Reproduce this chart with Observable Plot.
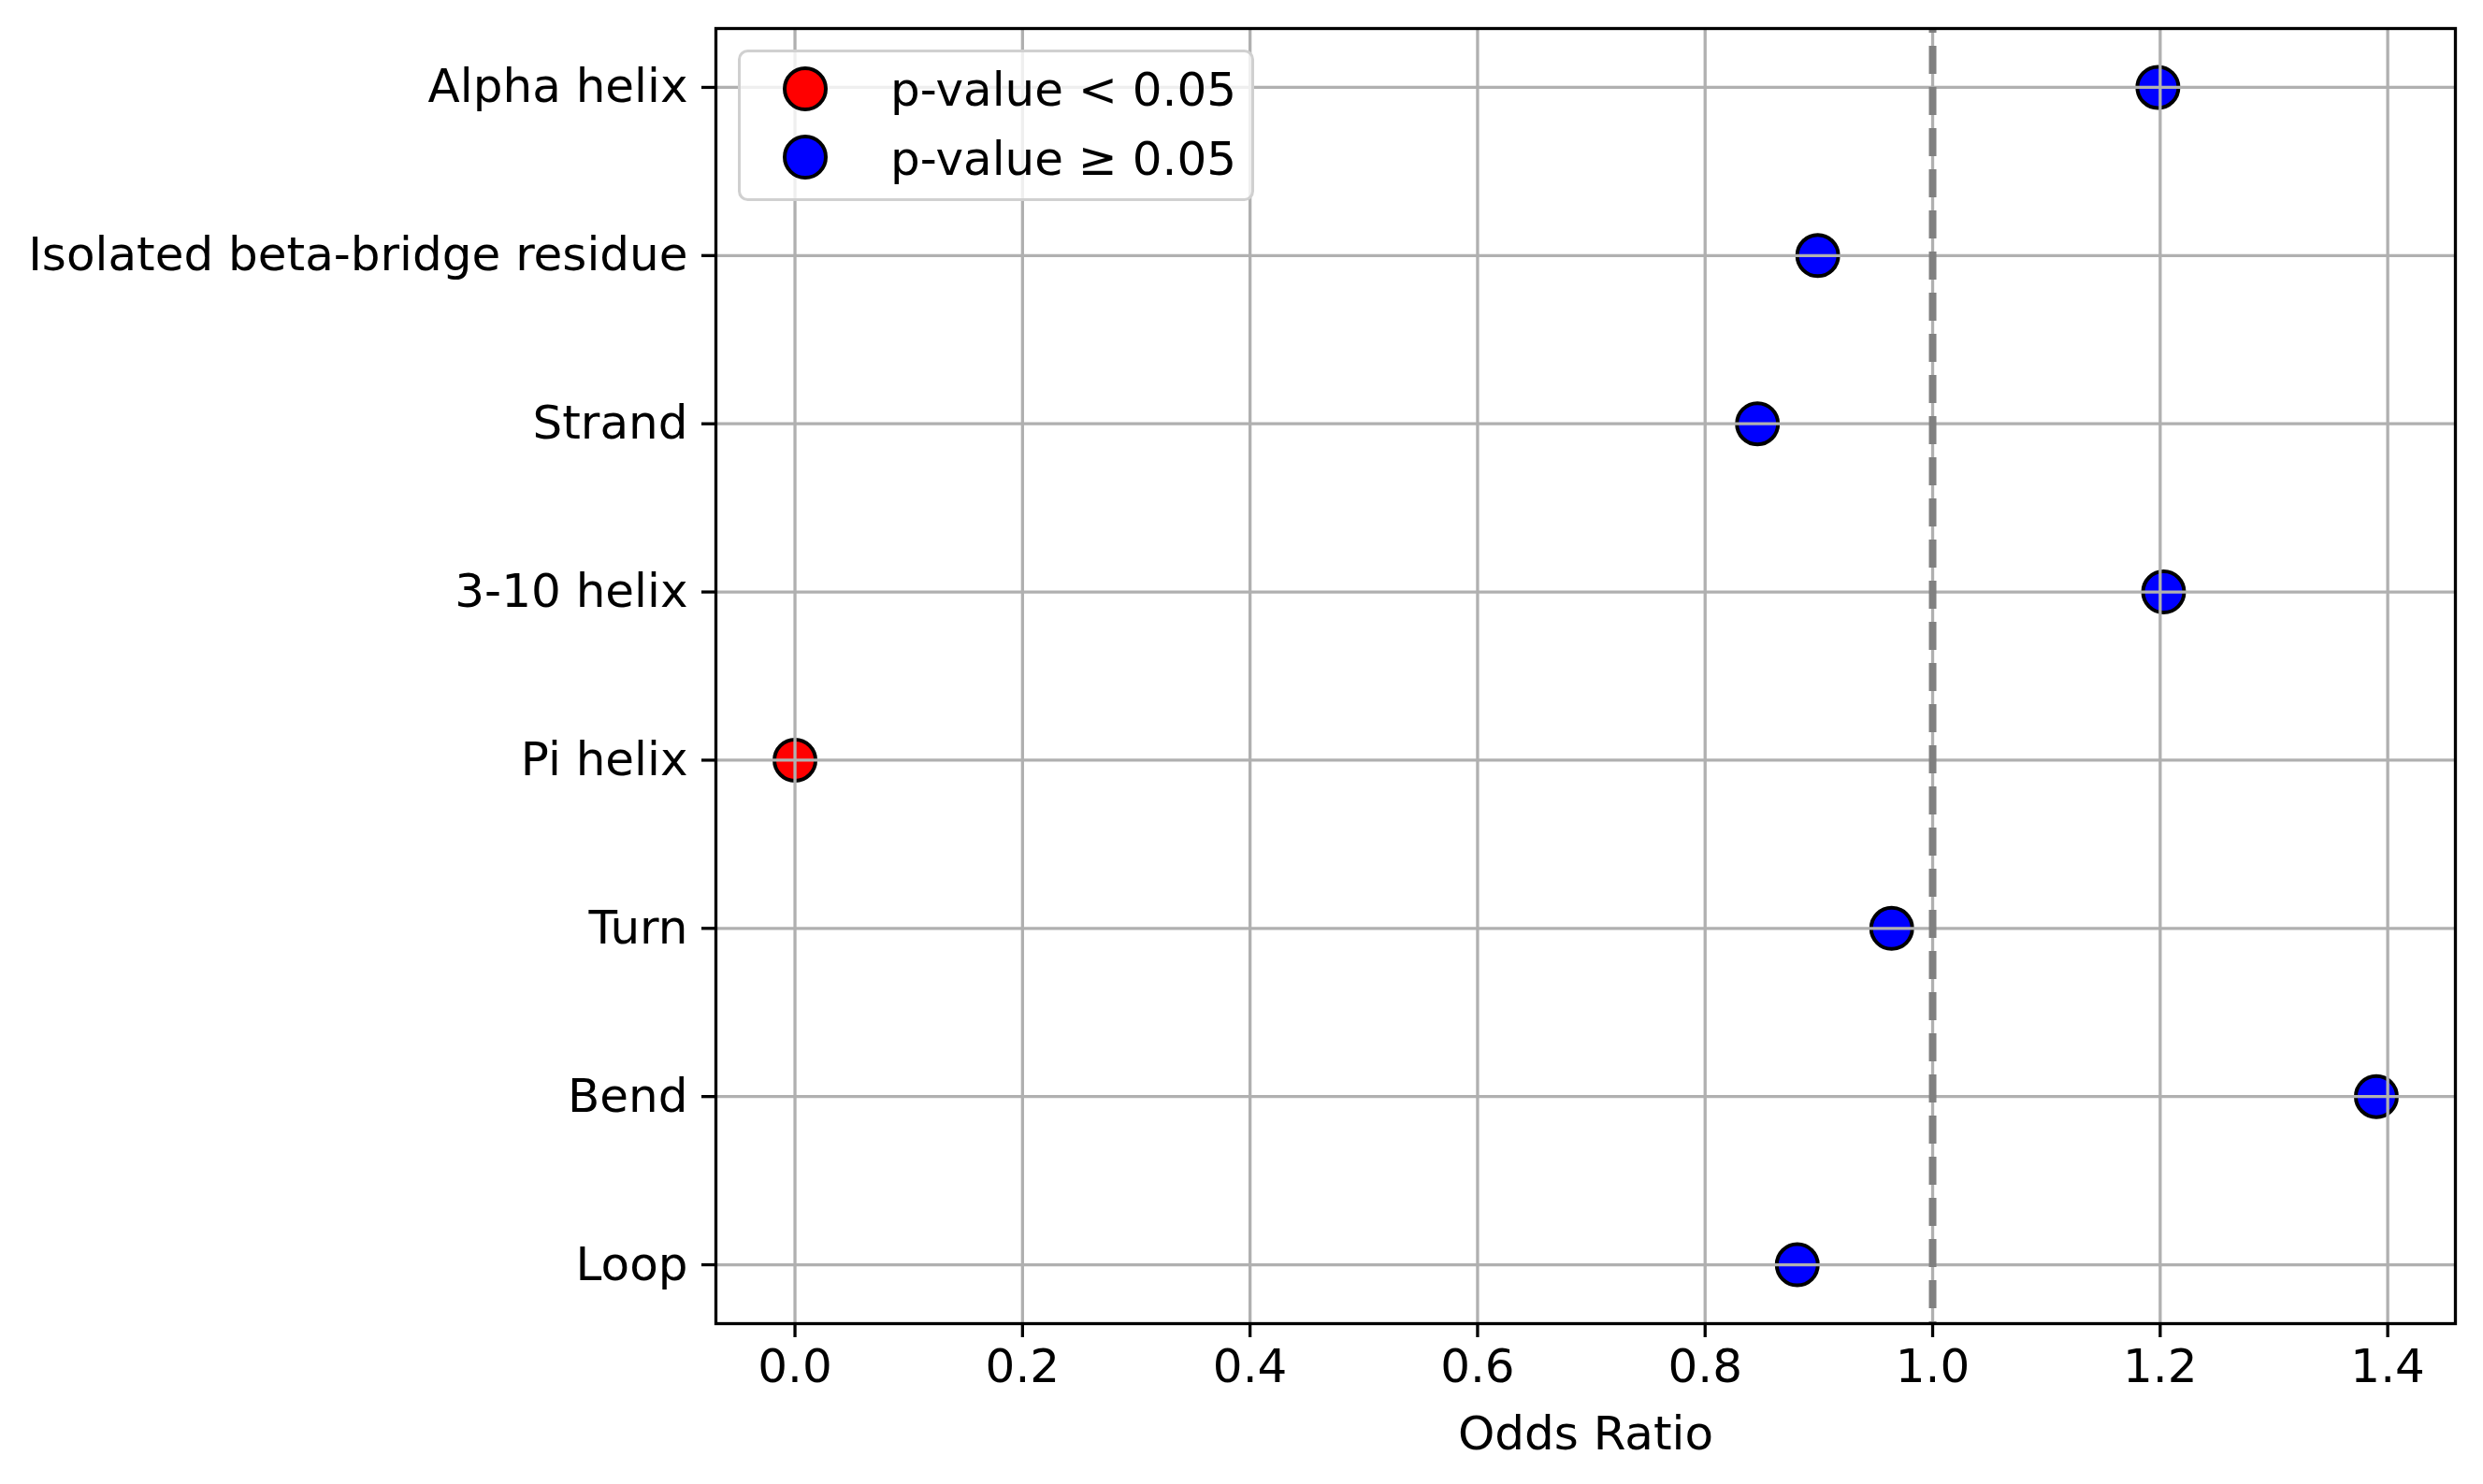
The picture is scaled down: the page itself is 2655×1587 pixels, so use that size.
<!DOCTYPE html>
<html>
<head>
<meta charset="utf-8">
<script src="https://cdn.jsdelivr.net/npm/d3@7"></script>
<script src="https://cdn.jsdelivr.net/npm/@observablehq/plot@0.6"></script>
<style>
  html, body { margin: 0; padding: 0; background: white; }
  #wrap { position: relative; width: 2655px; height: 1587px; }
  #legend { position: absolute; left: 789px; top: 53px; }
</style>
</head>
<body>
<div id="wrap"></div>
<script>
const categories = ["Alpha helix", "Isolated beta-bridge residue", "Strand", "3-10 helix", "Pi helix", "Turn", "Bend", "Loop"];
const oddsRatios = [1.198, 0.899, 0.846, 1.203, 0.0, 0.964, 1.390, 0.881];
const pValueGroup = ["p-value ≥ 0.05", "p-value ≥ 0.05", "p-value ≥ 0.05", "p-value ≥ 0.05", "p-value < 0.05", "p-value ≥ 0.05", "p-value ≥ 0.05", "p-value ≥ 0.05"];
const groupLabels = ["p-value < 0.05", "p-value ≥ 0.05"];
const groupColors = ["#ff0000", "#0000ff"];
const xTicks = [0, 0.2, 0.4, 0.6, 0.8, 1.0, 1.2, 1.4];
const referenceLine = [1.0];

const data = categories.map((c, i) => ({category: c, or: oddsRatios[i], group: pValueGroup[i]}));

const chart = Plot.plot({
  width: 2655,
  height: 1587,
  marginLeft: 765,
  marginRight: 30,
  marginTop: 30,
  marginBottom: 172,
  style: {fontFamily: "DejaVu Sans", fontSize: "50px", color: "black", background: "white"},
  x: {domain: [-0.0695, 1.4595]},
  y: {type: "point", domain: categories, padding: 0.35, round: false},
  color: {domain: groupLabels, range: groupColors},
  marks: [
    Plot.dot(data, {x: "or", y: "category", r: 22, fill: "group", stroke: "black", strokeWidth: 4}),
    Plot.gridX(xTicks, {stroke: "#b0b0b0", strokeOpacity: 1, strokeWidth: 3.3}),
    Plot.gridY(categories, {stroke: "#b0b0b0", strokeOpacity: 1, strokeWidth: 3.3}),
    Plot.ruleX(referenceLine, {stroke: "#808080", strokeWidth: 8, strokeDasharray: "30,14", strokeDashoffset: 25}),
    Plot.frame({stroke: "black", strokeWidth: 3.3}),
    Plot.axisX(xTicks, {tickSize: 15, tickPadding: 12, strokeWidth: 3.3, tickFormat: d3.format(".1f"),
      label: "Odds Ratio", labelAnchor: "center", labelArrow: "none", labelOffset: 134}),
    Plot.axisY(categories, {tickSize: 15, tickPadding: 15, strokeWidth: 3.3, label: null})
  ]
});

const wrap = document.getElementById("wrap");
wrap.appendChild(chart);

// Legend overlay
const ns = "http://www.w3.org/2000/svg";
const lg = document.createElementNS(ns, "svg");
lg.setAttribute("id", "legend");
lg.setAttribute("width", 552);
lg.setAttribute("height", 162);
const rect = document.createElementNS(ns, "rect");
rect.setAttribute("x", 1.5); rect.setAttribute("y", 1.5);
rect.setAttribute("width", 549); rect.setAttribute("height", 159);
rect.setAttribute("rx", 9);
rect.setAttribute("fill", "white"); rect.setAttribute("fill-opacity", 0.8);
rect.setAttribute("stroke", "#d0d0d0"); rect.setAttribute("stroke-width", 3);
lg.appendChild(rect);
groupLabels.forEach((lab, i) => {
  const c = document.createElementNS(ns, "circle");
  c.setAttribute("cx", 72); c.setAttribute("cy", 42 + i * 73);
  c.setAttribute("r", 22);
  c.setAttribute("fill", groupColors[i]); c.setAttribute("stroke", "black"); c.setAttribute("stroke-width", 4);
  lg.appendChild(c);
  const t = document.createElementNS(ns, "text");
  t.setAttribute("x", 163); t.setAttribute("y", 60 + i * 74);
  t.setAttribute("font-family", "DejaVu Sans"); t.setAttribute("font-size", 50);
  t.setAttribute("fill", "black");
  t.textContent = lab;
  lg.appendChild(t);
});
wrap.appendChild(lg);
</script>
</body>
</html>
